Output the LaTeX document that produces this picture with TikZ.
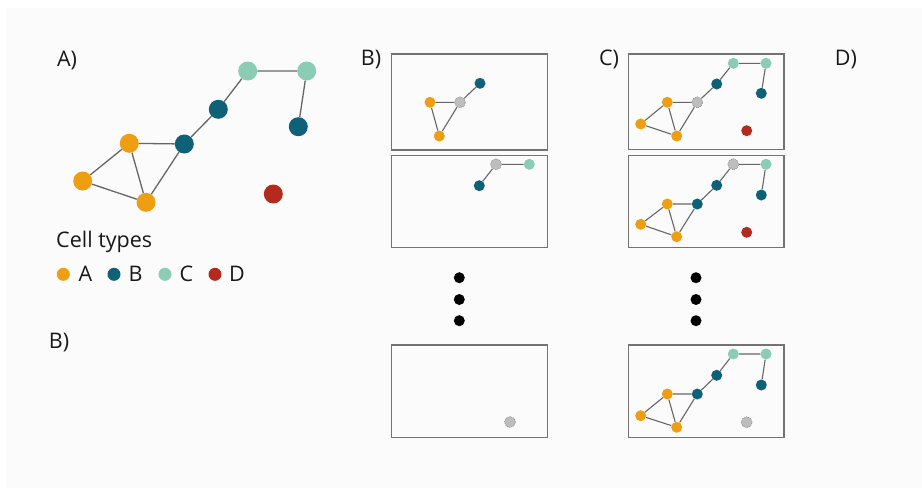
\documentclass[tikz,border=0pt]{standalone}
\usepackage{fontspec}
\setmainfont{Open Sans}
\begin{document}
\begin{tikzpicture}[x=1pt,y=-1pt,
  txt/.style={text=black!90, font=\fontsize{21.5}{24}\selectfont, inner sep=0, anchor=base},
  dot/.style={circle, inner sep=0, minimum size=19pt},
  sdot/.style={circle, inner sep=0, minimum size=11pt},
  ca/.style={fill=cA}, cb/.style={fill=cB}, cc/.style={fill=cC}, cd/.style={fill=cD},
  cg/.style={fill=cG, draw=black!45, line width=0.6pt, dash pattern=on 1pt off 1pt},
  edge/.style={draw=black!60, line width=1.3pt},
  sedge/.style={draw=black!60, line width=1.1pt},
  panel/.style={draw=black!55, line width=1.5pt},
  vdot/.style={circle, fill=black, inner sep=0, minimum size=11pt}
]
\definecolor{cA}{HTML}{EE9E12}
\definecolor{cB}{HTML}{0E6177}
\definecolor{cC}{HTML}{8ACCB4}
\definecolor{cD}{HTML}{B52A1E}
\definecolor{cG}{HTML}{BDBDBD}
\definecolor{bgc}{HTML}{FBFBFB}
\useasboundingbox (0,0) rectangle (922,488);
\fill[white] (0,0) rectangle (922,488);
\fill[bgc] (6,8) rectangle (922,488);

% ---------- Panel A ----------
\node[txt] (lA) at (67,66) {A)};
\node[dot,cc] (aC1) at (247.7,71) {};
\node[dot,cc] (aC2) at (306.7,71) {};
\node[dot,cb] (aB3) at (298.3,126.7) {};
\node[dot,cb] (aB1) at (218.3,109.3) {};
\node[dot,cb] (aB2) at (184.3,144) {};
\node[dot,ca] (aA1) at (129.3,143.3) {};
\node[dot,ca] (aA2) at (82.7,181) {};
\node[dot,ca] (aA3) at (146,202.3) {};
\node[dot,cd] (aD) at (273.3,194) {};
\draw[edge] (aC1)--(aC2) (aC2)--(aB3) (aC1)--(aB1) (aB1)--(aB2) (aB2)--(aA1) (aB2)--(aA3) (aA1)--(aA2) (aA1)--(aA3) (aA2)--(aA3);

% legend
\node[txt, anchor=base west] (lct) at (56,247) {Cell types};
\node[circle,inner sep=0,minimum size=13pt,ca] (gA) at (63.3,274.3) {};
\node[txt] (tA) at (85.5,281.8) {A};
\node[circle,inner sep=0,minimum size=13pt,cb] (gB) at (114,274.3) {};
\node[txt] (tB) at (135.5,281.8) {B};
\node[circle,inner sep=0,minimum size=13pt,cc] (gC) at (165,274.3) {};
\node[txt] (tC) at (186.5,281.8) {C};
\node[circle,inner sep=0,minimum size=13pt,cd] (gD) at (215,274.3) {};
\node[txt] (tD) at (237,281.8) {D};
\node[txt] (lB0) at (59,348) {B)};

% ---------- Panel B ----------
\node[txt] (lB) at (371,65.5) {B)};
\draw[panel] (391.7,54) rectangle (547.3,150);
\draw[panel] (391.7,155.3) rectangle (547.3,247.3);
\draw[panel] (391.7,345) rectangle (547.3,437.3);
% box 1
\node[sdot,cb] (b1B) at (480,83.3) {};
\node[sdot,cg] (b1G) at (460,102.3) {};
\node[sdot,ca] (b1A1) at (430,102.3) {};
\node[sdot,ca] (b1A2) at (439.3,136) {};
\draw[sedge] (b1A1)--(b1G) (b1A1)--(b1A2) (b1G)--(b1A2) (b1G)--(b1B);
% box 2
\node[sdot,cg] (b2G) at (496,164.3) {};
\node[sdot,cc] (b2C) at (529.3,164.3) {};
\node[sdot,cb] (b2B) at (479.3,185.7) {};
\draw[sedge] (b2G)--(b2C) (b2G)--(b2B);
% box 3
\node[sdot,cg] (b3G) at (510,422) {};
% vertical dots
\node[vdot] (bv1) at (459.3,277.7) {};
\node[vdot] (bv2) at (459.3,299.5) {};
\node[vdot] (bv3) at (459.3,320.7) {};

% ---------- Panel C ----------
\node[txt] (lC) at (609,65.5) {C)};
\draw[panel] (628.3,54) rectangle (784,149.3);
\draw[panel] (628.3,155.3) rectangle (784,247.3);
\draw[panel] (628.3,345) rectangle (784,437.3);
% box 1
\node[sdot,cc] (c1C1) at (733.3,63.3) {};
\node[sdot,cc] (c1C2) at (766,63.3) {};
\node[sdot,cb] (c1B3) at (761.3,93.3) {};
\node[sdot,cb] (c1B1) at (716.7,84) {};
\node[sdot,cg] (c1G) at (697.3,102.3) {};
\node[sdot,ca] (c1A1) at (667.3,102.3) {};
\node[sdot,ca] (c1A2) at (640.7,124) {};
\node[sdot,ca] (c1A3) at (676.7,136) {};
\node[sdot,cd] (c1D) at (746.7,130.7) {};
\draw[sedge] (c1C1)--(c1C2) (c1C2)--(c1B3) (c1C1)--(c1B1) (c1B1)--(c1G) (c1G)--(c1A1) (c1G)--(c1A3) (c1A1)--(c1A2) (c1A1)--(c1A3) (c1A2)--(c1A3);
% box 2
\node[sdot,cg] (c2G) at (733.3,164.3) {};
\node[sdot,cc] (c2C2) at (766,164.3) {};
\node[sdot,cb] (c2B3) at (761.3,195) {};
\node[sdot,cb] (c2B1) at (716.7,185.3) {};
\node[sdot,cb] (c2B2) at (697.3,204) {};
\node[sdot,ca] (c2A1) at (667.3,204) {};
\node[sdot,ca] (c2A2) at (640.7,224.3) {};
\node[sdot,ca] (c2A3) at (676.7,236.7) {};
\node[sdot,cd] (c2D) at (746.7,232.3) {};
\draw[sedge] (c2G)--(c2C2) (c2C2)--(c2B3) (c2G)--(c2B1) (c2B1)--(c2B2) (c2B2)--(c2A1) (c2B2)--(c2A3) (c2A1)--(c2A2) (c2A1)--(c2A3) (c2A2)--(c2A3);
% box 3
\node[sdot,cc] (c3C1) at (733.3,354) {};
\node[sdot,cc] (c3C2) at (766,354) {};
\node[sdot,cb] (c3B3) at (761.3,385) {};
\node[sdot,cb] (c3B1) at (716.7,375.3) {};
\node[sdot,cb] (c3B2) at (697.3,394) {};
\node[sdot,ca] (c3A1) at (667.3,394) {};
\node[sdot,ca] (c3A2) at (640.7,415.7) {};
\node[sdot,ca] (c3A3) at (676.7,427.3) {};
\node[sdot,cg] (c3G) at (746.7,422.3) {};
\draw[sedge] (c3C1)--(c3C2) (c3C2)--(c3B3) (c3C1)--(c3B1) (c3B1)--(c3B2) (c3B2)--(c3A1) (c3B2)--(c3A3) (c3A1)--(c3A2) (c3A1)--(c3A3) (c3A2)--(c3A3);
% vertical dots
\node[vdot] (cv1) at (696,277.7) {};
\node[vdot] (cv2) at (696,299.5) {};
\node[vdot] (cv3) at (696,320.7) {};

% ---------- Panel D ----------
\node[txt] (lD) at (846,65.5) {D)};
\end{tikzpicture}
\end{document}
